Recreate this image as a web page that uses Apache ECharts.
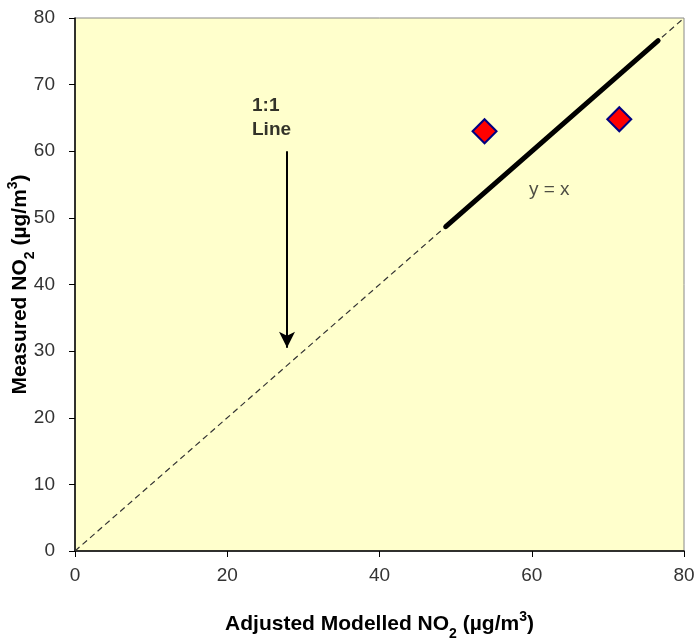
<!DOCTYPE html>
<html>
<head>
<meta charset="utf-8">
<script src="https://cdn.jsdelivr.net/npm/echarts@6/dist/echarts.min.js"></script>
<style>html,body{margin:0;padding:0;background:#fff;}#c{width:698px;height:641px;}</style>
</head>
<body>
<div id="c"></div>
<script>
var measuredX = [53.8, 71.5];
var measuredY = [63.0, 64.8];
var oneToOneLine = [0, 80];
var thickLineRange = [48.7, 76.6];
var arrowX = 27.85;
var arrowY = [60.0, 30.5];
var lineLabelPos = [23.25, 65.0];
var yxLabelPos = [62.3, 54.2];
var xTicks = [0, 20, 40, 60, 80];
var yTicks = [0, 10, 20, 30, 40, 50, 60, 70, 80];

var font = '"Liberation Sans", Arial, sans-serif';
var chart = echarts.init(document.getElementById('c'));
var nameRich = {
  b: {fontFamily: font, fontWeight: 'bold', fontSize: 21, color: '#000'},
  sub: {fontFamily: font, fontWeight: 'bold', fontSize: 14, color: '#000', verticalAlign: 'bottom', padding: [0,0,-6,0]},
  sup: {fontFamily: font, fontWeight: 'bold', fontSize: 14, color: '#000', verticalAlign: 'top', padding: [-4,0,0,0]}
};
chart.setOption({
  animation: false,
  grid: {left: 75, top: 18, width: 609, height: 533, show: true, backgroundColor: '#FFFFCC', borderColor: '#888', borderWidth: 1, outerBoundsMode: 'none', containLabel: false},
  xAxis: {
    type: 'value', min: xTicks[0], max: xTicks[xTicks.length-1], interval: 20,
    splitLine: {show: false},
    axisLine: {show: true, onZero: false, lineStyle: {color: '#000', width: 1.5}},
    axisTick: {show: true, length: 6, lineStyle: {color: '#000'}},
    axisLabel: {fontFamily: font, fontSize: 19, color: '#333', margin: 15},
    name: '{b|Adjusted Modelled NO}{sub|2}{b| (µg/m}{sup|3}{b|)}',
    nameLocation: 'middle', nameGap: 63, nameMoveOverlap: false,
    nameTextStyle: {rich: nameRich}
  },
  yAxis: {
    type: 'value', min: yTicks[0], max: yTicks[yTicks.length-1], interval: 10,
    splitLine: {show: false},
    axisLine: {show: true, onZero: false, lineStyle: {color: '#000', width: 1.5}},
    axisTick: {show: true, length: 6, lineStyle: {color: '#000'}},
    axisLabel: {fontFamily: font, fontSize: 19, color: '#333', margin: 20},
    name: '{b|Measured NO}{sub|2}{b| (µg/m}{sup|3}{b|)}',
    nameLocation: 'middle', nameGap: 44, nameMoveOverlap: false,
    nameTextStyle: {rich: nameRich}
  },
  series: [
    {
      type: 'line', data: oneToOneLine.map(function(v){return [v, v];}),
      symbol: 'none', lineStyle: {color: '#333', width: 1.2, type: [6, 4]}, z: 2
    },
    {
      type: 'line', data: thickLineRange.map(function(v){return [v, v];}),
      symbol: 'none', lineStyle: {color: '#000', width: 5, cap: 'round'}, z: 3
    },
    {
      type: 'scatter', data: measuredX.map(function(x, i){return [x, measuredY[i]];}),
      symbol: 'diamond', symbolSize: 24,
      itemStyle: {color: '#FF0000', borderColor: '#000080', borderWidth: 2, opacity: 1}, z: 5
    },
    {
      type: 'scatter', data: [lineLabelPos], symbolSize: 0, silent: true,
      label: {show: true, position: 'right', distance: 0, formatter: '1:1\nLine',
        fontFamily: font, fontWeight: 'bold', fontSize: 19, lineHeight: 24, color: '#000', align: 'left'},
      markLine: {
        silent: true, symbol: ['none', 'arrow'], symbolSize: [12, 16], label: {show: false},
        lineStyle: {color: '#000', width: 2, type: 'solid'},
        data: [[{coord: [arrowX, arrowY[0]]}, {coord: [arrowX, arrowY[1]]}]]
      }
    },
    {
      type: 'scatter', data: [yxLabelPos], symbolSize: 0, silent: true,
      label: {show: true, position: 'inside', formatter: 'y = x',
        fontFamily: font, fontSize: 19, color: '#222'}
    }
  ]
});
</script>
</body>
</html>
